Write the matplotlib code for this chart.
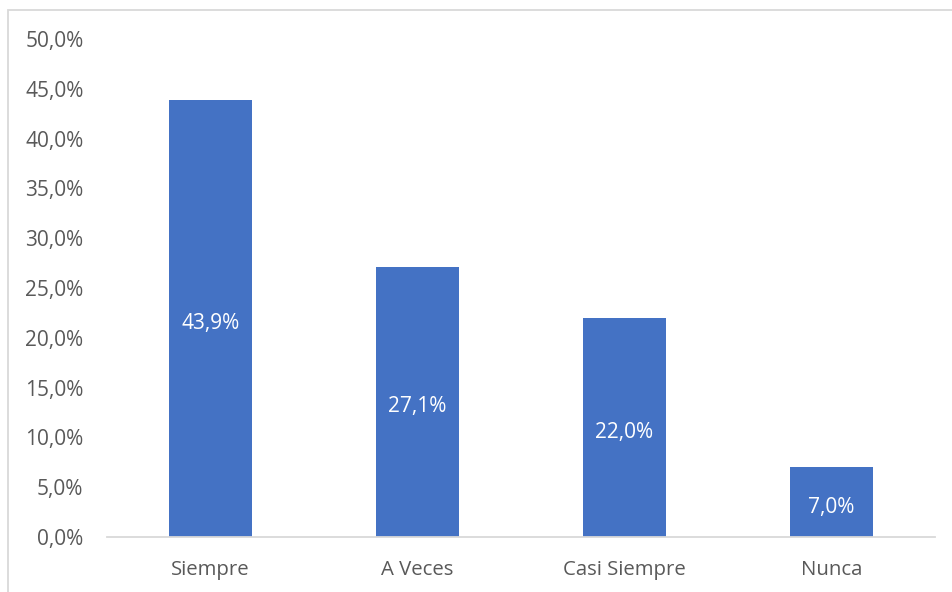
import matplotlib.pyplot as plt
from matplotlib.patches import Rectangle

categories = ["Siempre", "A Veces", "Casi Siempre", "Nunca"]
values = [43.9, 27.1, 22.0, 7.0]
yticks = [0, 5, 10, 15, 20, 25, 30, 35, 40, 45, 50]

bar_color = "#4472C4"
text_color = "#595959"
line_color = "#D9D9D9"

plt.rcParams['font.family'] = ['Open Sans', 'DejaVu Sans']

W, H = 952, 592
fig = plt.figure(figsize=(W / 100, H / 100), dpi=100)
ax = fig.add_axes([107 / W, 1 - 537 / H, 828 / W, 498 / H])

# chart area border (cut off at right/bottom)
fig.patches.append(Rectangle((7.5 / W, -0.1), 1.2, 1 - 9.5 / H + 0.1,
                             transform=fig.transFigure, fill=False,
                             edgecolor=line_color, linewidth=1.3))

x = range(len(categories))
bars = ax.bar(x, values, width=0.4, color=bar_color)
for xi, v in zip(x, values):
    ax.annotate(f"{v:.1f}%".replace(".", ","), (xi, v / 2), xytext=(0, -3.5),
                textcoords="offset points", ha="center", va="center",
                color="white", fontsize=15)

ax.set_xlim(-0.5, len(categories) - 0.5)
ax.set_ylim(0, 50)
ax.set_yticks(yticks)
ax.set_yticklabels([f"{t:.1f}%".replace(".", ",") for t in yticks])
ax.set_xticks(list(x))
ax.set_xticklabels(categories)

for s in ["top", "right", "left"]:
    ax.spines[s].set_visible(False)
ax.spines["bottom"].set_color(line_color)
ax.spines["bottom"].set_linewidth(1.3)
ax.tick_params(axis="y", length=0, pad=17, labelsize=15, labelcolor=text_color)
ax.tick_params(axis="x", length=0, pad=16.5, labelsize=14.7, labelcolor=text_color)

fig.savefig("out.png", dpi=100)
